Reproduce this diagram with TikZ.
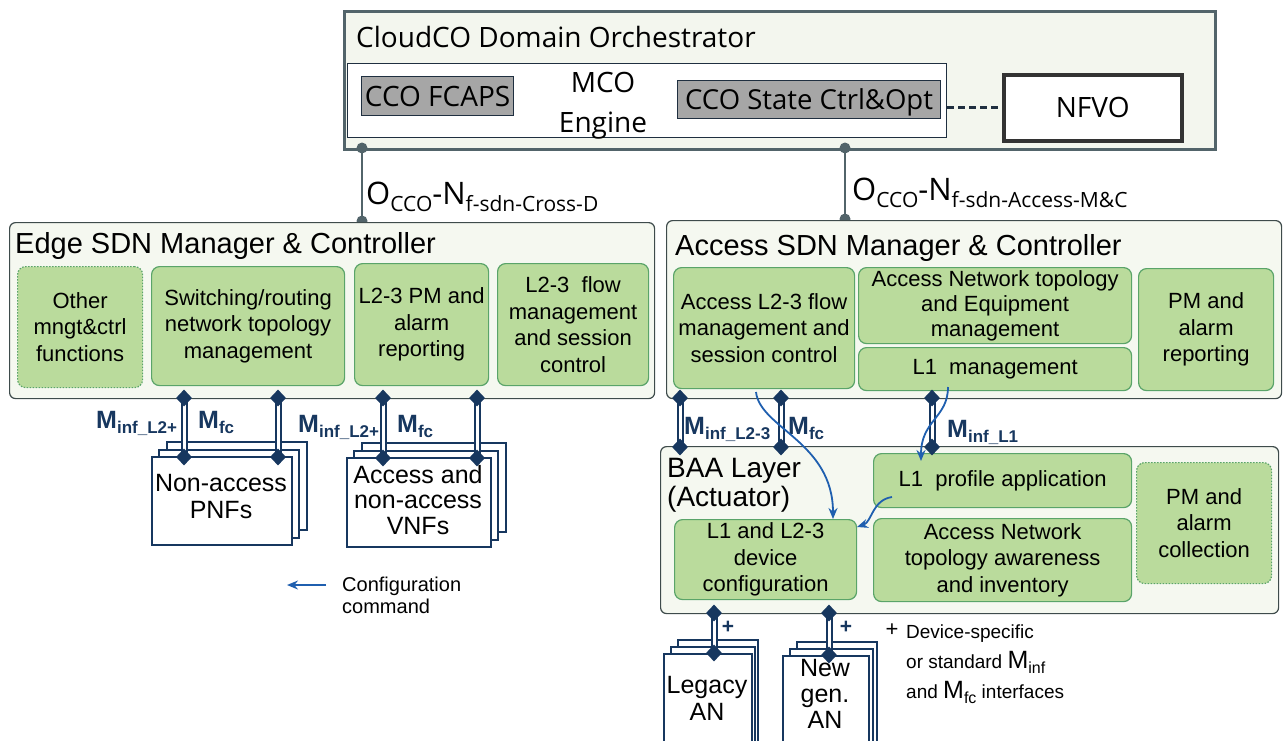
\documentclass[tikz,border=0pt]{standalone}
\usepackage{fontspec}
\setmainfont{Liberation Sans}
\newfontfamily\osans{Open Sans}
\usetikzlibrary{shapes.geometric,arrows.meta}

\definecolor{grnfill}{HTML}{BADB9C}
\definecolor{grnline}{HTML}{5AA469}
\definecolor{panelfill}{HTML}{F5F8F0}
\definecolor{panelline}{HTML}{3E4B4B}
\definecolor{orchfill}{HTML}{F3F6EE}
\definecolor{orchline}{HTML}{52646A}
\definecolor{grayfill}{HTML}{A6A6A6}
\definecolor{grayline}{HTML}{1F2F40}
\definecolor{navy}{HTML}{17375F}
\definecolor{cmdblue}{HTML}{1F5FAF}

% raised/lowered subscript helpers
\newcommand\ifsub[1]{\raisebox{-5pt}{\fontsize{17}{17}\selectfont #1}}
\newcommand\osub[1]{\raisebox{-7pt}{\fontsize{21}{21}\selectfont #1}}
\newcommand\txsub[1]{\raisebox{-5pt}{\fontsize{16}{16}\selectfont #1}}

\begin{document}
\begin{tikzpicture}[x=1pt,y=-1pt,
  panel/.style={draw=panelline, fill=panelfill, line width=1.2pt, rounded corners=6pt, anchor=north west, inner sep=0pt},
  gbox/.style={draw=grnline, fill=grnfill, line width=1.2pt, rounded corners=8pt, anchor=north west,
    align=center, inner sep=0pt, font=\fontsize{22}{26.5}\selectfont},
  gdot/.style={gbox, dash pattern=on 1.5pt off 1.5pt},
  graybox/.style={draw=grayline, fill=grayfill, line width=1.2pt, anchor=north west, inner sep=0pt,
    text height=20pt, text depth=0pt, font=\osans\fontsize{28}{28}\selectfont},
  stackbox/.style={draw=navy, fill=white, line width=2pt, anchor=north west, inner sep=0pt},
  stacktext/.style={align=center, inner sep=0pt, font=\fontsize{25}{27}\selectfont},
  dia/.style={diamond, fill=navy, inner sep=0pt, minimum width=16pt, minimum height=17pt},
  iface/.style={draw=navy, line width=2pt, double=white, double distance=3pt},
  iflabel/.style={anchor=base west, inner sep=0pt, text=navy, font=\bfseries\fontsize{25}{25}\selectfont},
  oline/.style={draw=orchline, line width=2.5pt},
  odot/.style={circle, fill=orchline, inner sep=0pt, minimum size=11pt},
  cfg/.style={draw=cmdblue, line width=1.8pt, -{Stealth[length=11pt,width=9pt]}},
  plain/.style={anchor=base west, inner sep=0pt}
]
\useasboundingbox (0,0) rectangle (1283,740);
\clip (0,0) rectangle (1283,740);

% ---------------- CloudCO Domain Orchestrator ----------------
\node[draw=orchline, fill=orchfill, line width=3pt, anchor=north west, inner sep=0pt,
  minimum width=871pt, minimum height=138pt] (cco) at (343,10) {};
\node[plain, font=\osans\fontsize{28}{28}\selectfont] (ccotitle) at (356,47) {CloudCO Domain Orchestrator};
\node[draw=grayline, fill=white, line width=1.2pt, anchor=north west, inner sep=0pt,
  minimum width=599pt, minimum height=74pt] (mco) at (347,63) {};
\node[graybox, minimum width=152pt, minimum height=39pt] (fcaps) at (361,76) {CCO FCAPS};
\node[anchor=base, inner sep=0pt, font=\osans\fontsize{28}{28}\selectfont] (mcoA) at (603,92) {MCO};
\node[anchor=base, inner sep=0pt, font=\osans\fontsize{28}{28}\selectfont] (mcoB) at (603,132) {Engine};
\node[graybox, minimum width=263pt, minimum height=38pt, font=\osans\fontsize{27.5}{28}\selectfont] (state) at (677,80) {CCO State Ctrl\&Opt};
\node[draw=black!80, fill=white, line width=3.5pt, anchor=north west, inner sep=0pt,
  minimum width=178pt, minimum height=66pt, text height=20pt, text depth=0pt,
  font=\osans\fontsize{28}{28}\selectfont] (nfvo) at (1002,73) {NFVO};
\draw[draw=grayline, line width=3pt, dash pattern=on 7pt off 4pt] (mco.east |- nfvo.west) -- (nfvo.west);

% orchestrator reference points
\coordinate (ocA) at (362,148);
\coordinate (ocAe) at (362,221);
\coordinate (ocB) at (845,148);
\coordinate (ocBe) at (845,219);
\draw[oline] (ocA) -- (ocAe);
\draw[oline] (ocB) -- (ocBe);
\node[odot] (dA1) at (ocA) {};
\node[odot] (dA2) at (ocAe) {};
\node[odot] (dB1) at (ocB) {};
\node[odot] (dB2) at (ocBe) {};
\node[plain, font=\osans\fontsize{31}{31}\selectfont] (refA) at (366,204) {O\osub{CCO}-N\osub{f-sdn-Cross-D}};
\node[plain, font=\osans\fontsize{31}{31}\selectfont] (refB) at (852,200) {O\osub{CCO}-N\osub{f-sdn-Access-M\&C}};

% ---------------- Edge SDN Manager & Controller ----------------
\node[panel, minimum width=645pt, minimum height=176pt] (edge) at (9,222) {};
\node[plain, font=\fontsize{29}{29}\selectfont] (edgetitle) at (15,253) {Edge SDN Manager \& Controller};
\node[gdot, minimum width=125pt, minimum height=121pt] (other) at (17,266) {Other\\mngt\&ctrl\\functions};
\node[gbox, minimum width=193pt, minimum height=119pt] (switch) at (151,266) {Switching/routing\\network topology\\management};
\node[gbox, minimum width=134pt, minimum height=122pt] (epm) at (354,263) {L2-3 PM and\\alarm\\reporting};
\node[gbox, minimum width=151pt, minimum height=122pt] (eflow) at (497,263) {L2-3\ \ flow\\management\\and session\\control};

% edge devices (stacked boxes)
\node[stackbox, minimum width=140pt, minimum height=88pt] (pnf3) at (166,441) {};
\node[stackbox, minimum width=140pt, minimum height=88pt] (pnf2) at (158,449) {};
\node[stackbox, minimum width=140pt, minimum height=88pt] (pnf1) at (151,456) {};
\node[stacktext] (pnftext) at (221,497) {Non-access\\PNFs};
\node[stackbox, minimum width=144pt, minimum height=89pt] (vnf3) at (361,442) {};
\node[stackbox, minimum width=144pt, minimum height=89pt] (vnf2) at (353,450) {};
\node[stackbox, minimum width=144pt, minimum height=89pt] (vnf1) at (346,457) {};
\node[stacktext, font=\fontsize{25}{25.5}\selectfont] (vnftext) at (418,500) {Access and\\non-access\\VNFs};

% edge interfaces
\coordinate (e1t) at (184,398); \coordinate (e1b) at (184,457);
\coordinate (e2t) at (278,398); \coordinate (e2b) at (278,457);
\coordinate (e3t) at (383,398); \coordinate (e3b) at (383,458);
\coordinate (e4t) at (477,398); \coordinate (e4b) at (477,458);
\foreach \p in {e1,e2,e3,e4} {
  \draw[iface] (\p t) -- (\p b);
  \node[dia] at (\p t) {};
  \node[dia] at (\p b) {};
}
\node[iflabel] (lbE1) at (96,428) {M\ifsub{inf\_L2+}};
\node[iflabel] (lbE2) at (198,428) {M\ifsub{fc}};
\node[iflabel] (lbE3) at (298,432) {M\ifsub{inf\_L2+}};
\node[iflabel] (lbE4) at (397,432) {M\ifsub{fc}};

% legend
\coordinate (lgA) at (326,585);
\coordinate (lgB) at (287,585);
\draw[cfg] (lgA) -- (lgB);
\node[plain, font=\fontsize{20}{20}\selectfont] (lg1) at (342,591) {Configuration};
\node[plain, font=\fontsize{20}{20}\selectfont] (lg2) at (342,613) {command};

% ---------------- Access SDN Manager & Controller ----------------
\node[panel, minimum width=615pt, minimum height=178pt] (acc) at (666,220) {};
\node[plain, font=\fontsize{29}{29}\selectfont] (acctitle) at (675,255) {Access SDN Manager \& Controller};
\node[gbox, minimum width=181pt, minimum height=121pt] (aflow) at (673,267) {Access L2-3 flow\\management and\\session control};
\node[gbox, minimum width=273pt, minimum height=76pt, font=\fontsize{22}{25}\selectfont] (atopo) at (858,267) {Access Network topology\\and Equipment\\management};
\node[gbox, minimum width=273pt, minimum height=43pt] (l1m) at (858,347) {L1\ \ management};
\node[gbox, minimum width=135pt, minimum height=122pt] (apm) at (1138,268) {PM and\\alarm\\reporting};

% ---------------- BAA Layer ----------------
\node[panel, minimum width=618pt, minimum height=167pt] (baa) at (660,446) {};
\node[plain, font=\fontsize{28}{28}\selectfont] (baaA) at (667,477) {BAA Layer};
\node[plain, font=\fontsize{28}{28}\selectfont] (baaB) at (667,506) {(Actuator)};
\node[gbox, minimum width=258pt, minimum height=54pt] (l1p) at (873,453) {L1\ \ profile application};
\node[gdot, minimum width=135pt, minimum height=121pt] (bpm) at (1136,462) {PM and\\alarm\\collection};
\node[gbox, minimum width=182pt, minimum height=80pt] (devcfg) at (674,519) {L1 and L2-3\\device\\configuration};
\node[gbox, minimum width=258pt, minimum height=83pt] (bnet) at (873,518) {Access Network\\topology awareness\\and inventory};

% access interfaces
\coordinate (a1t) at (680,398); \coordinate (a1b) at (680,447);
\coordinate (a2t) at (781,398); \coordinate (a2b) at (781,447);
\coordinate (a3t) at (932,398); \coordinate (a3b) at (932,447);

% access nodes (stacked boxes)
\node[stackbox, minimum width=80pt, minimum height=120pt] (leg3) at (677,639) {};
\node[stackbox, minimum width=84pt, minimum height=120pt] (leg2) at (670,646) {};
\node[stackbox, minimum width=88pt, minimum height=120pt] (leg1) at (663,653) {};
\node[stacktext] (legtext) at (707,698) {Legacy\\AN};
\node[stackbox, minimum width=80pt, minimum height=120pt] (ng3) at (796,641) {};
\node[stackbox, minimum width=83pt, minimum height=120pt] (ng2) at (789,648) {};
\node[stackbox, minimum width=86pt, minimum height=120pt] (ng1) at (782,655) {};
\node[stacktext, font=\fontsize{25}{26}\selectfont] (ngtext) at (825,694) {New\\gen.\\AN};

\coordinate (b1t) at (714,613); \coordinate (b1b) at (714,653);
\coordinate (b2t) at (829,613); \coordinate (b2b) at (829,655);

\foreach \p in {a1,a2,a3,b1,b2} {
  \draw[iface] (\p t) -- (\p b);
  \node[dia] at (\p t) {};
  \node[dia] at (\p b) {};
}
\node[iflabel] (lbA1) at (684,434) {M\ifsub{inf\_L2-3}};
\node[iflabel] (lbA2) at (788,434) {M\ifsub{fc}};
\node[iflabel] (lbA3) at (947,437) {M\ifsub{inf\_L1}};
\node[anchor=center, inner sep=0pt, text=navy, font=\bfseries\fontsize{21}{21}\selectfont] (plA) at (728,627) {+};
\node[anchor=center, inner sep=0pt, text=navy, font=\bfseries\fontsize{21}{21}\selectfont] (plB) at (846,627) {+};

% note on device interfaces
\node[anchor=center, inner sep=0pt, font=\fontsize{22}{22}\selectfont] (plN) at (892,630) {+};
\node[plain, font=\fontsize{19}{19}\selectfont] (nt1) at (906,638) {Device-specific};
\node[plain, font=\fontsize{19}{19}\selectfont] (nt2) at (906,668) {or standard {\fontsize{25}{25}\selectfont M}\txsub{inf}};
\node[plain, font=\fontsize{19}{19}\selectfont] (nt3) at (906,698) {and {\fontsize{25}{25}\selectfont M}\txsub{fc} interfaces};

% configuration commands
\coordinate (c1s) at (756,392);
\coordinate (c2s) at (948,387);
\coordinate (c3s) at (892,497);
\draw[cfg] (c1s) .. controls (760,428) and (833,442) .. (devcfg.north -| 833,0);
\draw[cfg] (c2s) .. controls (948,418) and (921,420) .. (921,461);
\draw[cfg] (c3s) .. controls (872,500) and (872,522) .. (857,527);
\end{tikzpicture}
\end{document}
